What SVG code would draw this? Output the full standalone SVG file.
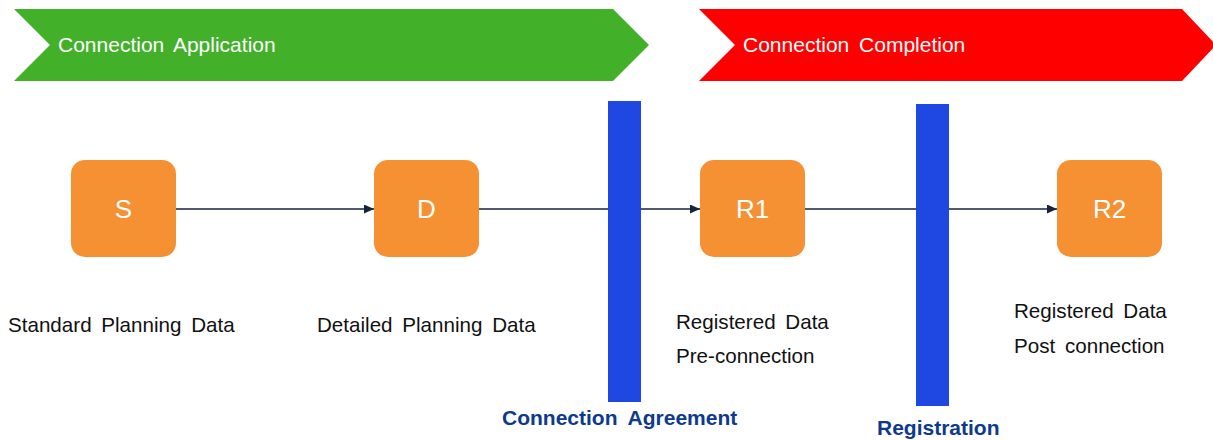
<svg xmlns="http://www.w3.org/2000/svg" width="1213" height="440" viewBox="0 0 1213 440">
<style>
  .lbl{font-family:"Liberation Sans",Arial,sans-serif;font-size:20.6px;fill:#111;word-spacing:4px}
  .phase{font-family:"Liberation Sans",Arial,sans-serif;font-size:21px;fill:#fff;word-spacing:4px}
  .box{fill:#f59033}
  .boxt{font-family:"Liberation Sans",Arial,sans-serif;font-size:26px;fill:#fff;text-anchor:middle}
  .bar{fill:#1f48e2}
  .gate{font-family:"Liberation Sans",Arial,sans-serif;font-size:21px;font-weight:bold;fill:#0d3a8e;word-spacing:5px}
  .conn{stroke:#14243c;stroke-width:1.5;fill:none}
</style>
<defs>
  <marker id="arr" viewBox="0 0 10 10" refX="10" refY="5" markerWidth="10" markerHeight="9" markerUnits="userSpaceOnUse" orient="auto" preserveAspectRatio="none">
    <path d="M0,0 L10,5 L0,10 z" fill="#14243c"/>
  </marker>
</defs>
<rect width="1213" height="440" fill="#fff"/>
<g id="phase-application">
  <polygon points="14,9 613,9 649,45 613,81 14,81 50,45" fill="#43b02a"/>
  <text class="phase" x="58" y="52">Connection Application</text>
</g>
<g id="phase-completion">
  <polygon points="699,9 1182,9 1216,45 1182,81 699,81 735,45" fill="#ff0000"/>
  <text class="phase" x="743" y="52">Connection Completion</text>
</g>
<g id="connectors">
  <line class="conn" x1="176" y1="209" x2="374" y2="209" marker-end="url(#arr)"/>
  <line class="conn" x1="479" y1="209" x2="700" y2="209" marker-end="url(#arr)"/>
  <line class="conn" x1="805" y1="209" x2="1057" y2="209" marker-end="url(#arr)"/>
</g>
<g id="gate-agreement">
  <rect class="bar" x="608" y="101" width="33" height="301"/>
  <text class="gate" x="502" y="425">Connection Agreement</text>
</g>
<g id="gate-registration">
  <rect class="bar" x="916" y="104" width="33" height="302"/>
  <text class="gate" x="877" y="435">Registration</text>
</g>
<g id="node-S">
  <rect class="box" x="71" y="160" width="105" height="97" rx="14"/>
  <text class="boxt" x="123.5" y="218">S</text>
  <text class="lbl" x="8" y="332">Standard Planning Data</text>
</g>
<g id="node-D">
  <rect class="box" x="374" y="160" width="105" height="97" rx="14"/>
  <text class="boxt" x="426.5" y="218">D</text>
  <text class="lbl" x="317" y="332">Detailed Planning Data</text>
</g>
<g id="node-R1">
  <rect class="box" x="700" y="160" width="105" height="97" rx="14"/>
  <text class="boxt" x="752.5" y="218">R1</text>
  <text class="lbl" x="676" y="329">Registered Data</text>
  <text class="lbl" x="676" y="363">Pre-connection</text>
</g>
<g id="node-R2">
  <rect class="box" x="1057" y="160" width="105" height="97" rx="14"/>
  <text class="boxt" x="1109.5" y="218">R2</text>
  <text class="lbl" x="1014" y="318">Registered Data</text>
  <text class="lbl" x="1014" y="353">Post connection</text>
</g>
</svg>
